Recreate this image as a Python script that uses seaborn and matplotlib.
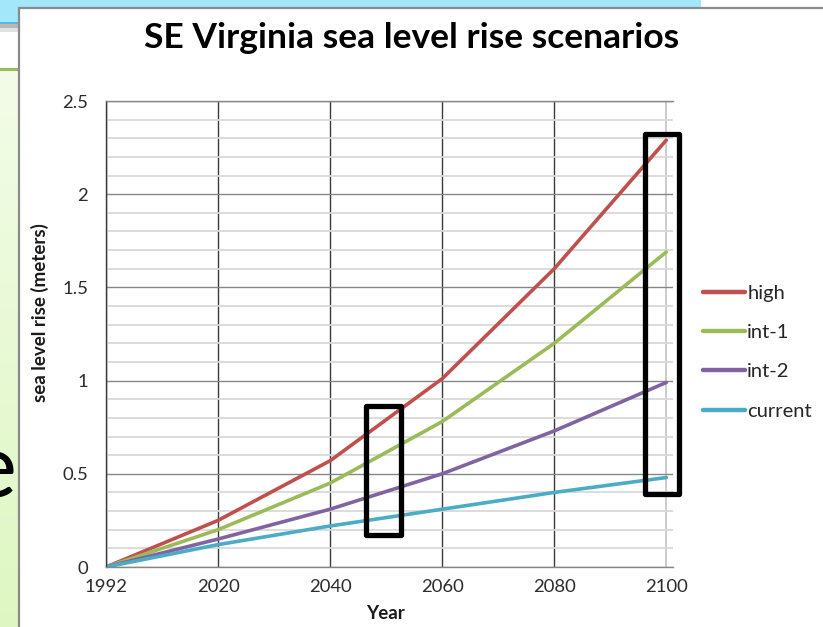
import numpy as np
import pandas as pd
import seaborn as sns
import matplotlib
matplotlib.use("Agg")
import matplotlib.pyplot as plt
from matplotlib.patches import Rectangle
from matplotlib.ticker import MultipleLocator

# Scenario data (sea level rise in meters)
years = ["1992", "2020", "2040", "2060", "2080", "2100"]
high = [0.0, 0.25, 0.57, 1.01, 1.60, 2.29]
int_1 = [0.0, 0.20, 0.45, 0.78, 1.20, 1.69]
int_2 = [0.0, 0.15, 0.31, 0.50, 0.73, 0.99]
current = [0.0, 0.12, 0.22, 0.31, 0.40, 0.48]
scenarios = ["high", "int-1", "int-2", "current"]
colors = ["#c0504d", "#9bbb59", "#8064a2", "#4bacc6"]

df = pd.DataFrame({
    "Year": years * 4,
    "rise": high + int_1 + int_2 + current,
    "scenario": [s for s in scenarios for _ in years],
})

sns.set_theme(style="white")
plt.rcParams["font.family"] = ["Lato", "DejaVu Sans"]

W, H = 823, 627
fig = plt.figure(figsize=(W / 100, H / 100), dpi=100)
fig.patch.set_facecolor("white")


def px(x0, y0, x1, y1):
    """Convert a pixel box (top-left origin) to figure fraction (x, y, w, h)."""
    return x0 / W, 1 - y1 / H, (x1 - x0) / W, (y1 - y0) / H


def frect(box, **kw):
    x, y, w, h = px(*box)
    r = Rectangle((x, y), w, h, transform=fig.transFigure, **kw)
    fig.add_artist(r)
    return r


# Slide background pieces behind the chart
frect((0, 0, 701, 22), facecolor="#a3e7fb", edgecolor="none", zorder=-10)
frect((0, 22, 701, 24), facecolor="#5ab9da", edgecolor="none", zorder=-10)
frect((0, 24, 701, 28), facecolor="#b8b8b8", edgecolor="none", zorder=-10)
frect((0, 28, 701, 32), facecolor="#e2e2e2", edgecolor="none", zorder=-10)
frect((0, 68, 19, 71), facecolor="#9bbb59", edgecolor="none", zorder=-10)

# Light green panel with a soft vertical gradient
gax = fig.add_axes(px(0, 71, 19, 627), zorder=-9)
grad = np.linspace(0, 1, 256)[:, None]
cmap = matplotlib.colors.LinearSegmentedColormap.from_list("g", ["#f3fce8", "#def7c2"])
gax.imshow(grad, aspect="auto", cmap=cmap, extent=(0, 1, 1, 0))
gax.set_axis_off()
fig.text(16 / W, 1 - 497 / H, "e", fontsize=64, ha="right", va="baseline",
         color="black", zorder=-8)

# Chart frame
frect((19, 8, 830, 640), facecolor="white", edgecolor="#8a8a8a", linewidth=1.6, zorder=-5)

# Plot area
ax = fig.add_axes(px(106, 101, 673, 567))
sns.lineplot(data=df, x="Year", y="rise", hue="scenario", hue_order=scenarios,
             palette=colors, linewidth=2.6, ax=ax, sort=False)

ax.set_xlim(0, 5.06)
ax.set_ylim(0, 2.5)
ax.yaxis.set_minor_locator(MultipleLocator(0.1))
ax.set_yticks([0, 0.5, 1, 1.5, 2, 2.5])
ax.set_yticklabels(["0", "0.5", "1", "1.5", "2", "2.5"])
ax.set_xticks(range(len(years)))
ax.set_xticklabels(years)

ax.grid(which="minor", axis="y", color="#d9d9d9", linewidth=1.3)
ax.grid(which="major", axis="y", color="#868686", linewidth=1.0)
for i in range(len(years) - 1):
    ax.axvline(i, color="#3a3a3a", linewidth=1.0, zorder=0.5)
ax.axvline(len(years) - 1, color="#c8c8c8", linewidth=1.3, zorder=0.5)
ax.set_axisbelow(True)

for s in ["left", "bottom", "top"]:
    ax.spines[s].set_visible(True)
    ax.spines[s].set_color("#868686")
    ax.spines[s].set_linewidth(1.0)
ax.spines["left"].set_color("#3a3a3a")
ax.spines["right"].set_visible(False)

ax.tick_params(axis="both", which="both", length=0, labelsize=13.3, colors="#2b2b2b")
ax.tick_params(axis="y", pad=13)
ax.tick_params(axis="x", pad=9)

ax.set_xlabel("Year", fontsize=13.5, fontweight="bold", color="#1a1a1a", va="center")
ax.xaxis.set_label_coords(0.492, -0.099)
ax.set_ylabel("sea level rise (meters)", fontsize=13.5, fontweight="bold",
              color="#1a1a1a", va="center")
ax.yaxis.set_label_coords(-0.116, 0.545)

fig.text(412 / W, 1 - 38 / H, "SE Virginia sea level rise scenarios", fontsize=25.5,
         fontweight="bold", ha="center", va="center", color="black")

leg = ax.legend(title=None, frameon=False, loc="center left",
                bbox_to_anchor=(1.053, 0.461), fontsize=14.5, handlelength=2.1,
                handletextpad=0.1, labelspacing=1.1, borderpad=0, borderaxespad=0)
for line in leg.get_lines():
    line.set_linewidth(3.2)
for t in leg.get_texts():
    t.set_color("#262626")

# Highlight boxes around 2050 and 2100
for (x0, x1, y0, y1) in [(2.32, 2.63, 0.17, 0.864), (4.81, 5.11, 0.39, 2.323)]:
    ax.add_patch(Rectangle((x0, y0), x1 - x0, y1 - y0, fill=False,
                           edgecolor="black", linewidth=3.8, clip_on=False,
                           zorder=10, joinstyle="round"))

fig.savefig("out.png", dpi=100)
